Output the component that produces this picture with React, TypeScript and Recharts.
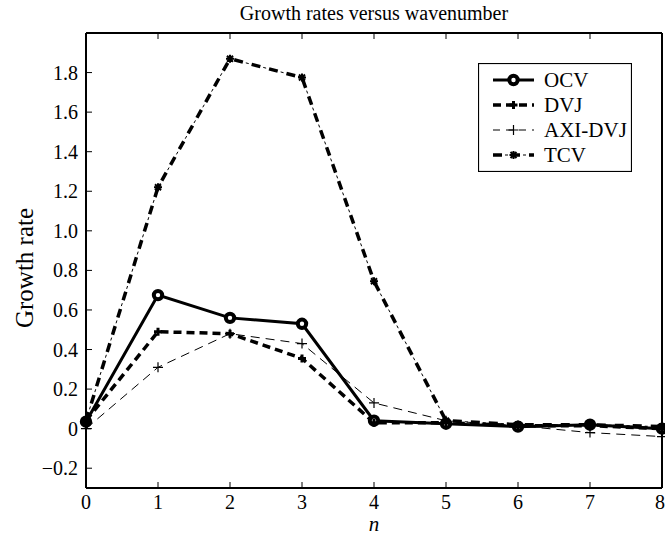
import React from 'react';
import { LineChart, Line, XAxis, YAxis, Legend } from 'recharts';

const wavenumbers = [0, 1, 2, 3, 4, 5, 6, 7, 8];
const ocv = [0.035, 0.675, 0.56, 0.53, 0.04, 0.025, 0.01, 0.02, 0.0];
const dvj = [0.04, 0.49, 0.48, 0.355, 0.03, 0.03, 0.015, 0.015, 0.0];
const axiDvj = [0.0, 0.31, 0.48, 0.43, 0.13, 0.04, 0.015, -0.02, -0.04];
const tcv = [0.04, 1.22, 1.87, 1.775, 0.745, 0.04, 0.02, 0.02, 0.01];

const xTicks = [0, 1, 2, 3, 4, 5, 6, 7, 8];
const yTicks = [-0.2, 0, 0.2, 0.4, 0.6, 0.8, 1.0, 1.2, 1.4, 1.6, 1.8];

const data = wavenumbers.map((n, i) => ({
  n,
  ocv: ocv[i],
  dvj: dvj[i],
  axi: axiDvj[i],
  tcv: tcv[i],
}));

const font = 'Liberation Serif, DejaVu Serif, serif';
const tickStyle = { fontSize: 20, fill: '#000', style: { fontFamily: font } };

const fmtY = (v: number) =>
  v === 0 ? '0' : v < 0 ? '\u2212' + Math.abs(v).toFixed(1) : v.toFixed(1);

type MarkProps = { cx?: number; cy?: number; index?: number };

const Circle = ({ cx, cy }: MarkProps) => (
  <circle cx={cx} cy={cy} r={4.2} fill="#fff" stroke="#000" strokeWidth={4} />
);
const ThickPlus = ({ cx = 0, cy = 0 }: MarkProps) => (
  <path d={`M${cx - 4},${cy}H${cx + 4}M${cx},${cy - 4}V${cy + 4}`} stroke="#000" strokeWidth={3} />
);
const ThinPlus = ({ cx = 0, cy = 0 }: MarkProps) => (
  <path d={`M${cx - 5},${cy}H${cx + 5}M${cx},${cy - 5}V${cy + 5}`} stroke="#000" strokeWidth={1.2} />
);
const Star = ({ cx = 0, cy = 0 }: MarkProps) => (
  <path
    d={`M${cx - 4},${cy}H${cx + 4}M${cx},${cy - 4}V${cy + 4}M${cx - 3},${cy - 3}L${cx + 3},${cy + 3}M${cx - 3},${cy + 3}L${cx + 3},${cy - 3}`}
    stroke="#000"
    strokeWidth={2}
  />
);

const dotOf = (Comp: React.FC<MarkProps>) => (p: MarkProps) =>
  <Comp key={p.index} cx={p.cx} cy={p.cy} />;

const legendRows = [
  { name: 'OCV', width: 3, dash: undefined, Mark: Circle },
  { name: 'DVJ', width: 3.5, dash: '8 5', Mark: ThickPlus },
  { name: 'AXI-DVJ', width: 1, dash: '7 6', Mark: ThinPlus },
  { name: 'TCV', width: 3.5, dash: '9 9', Mark: Star },
];

const LegendBox = () => (
  <svg width={154} height={109} style={{ display: 'block', fontFamily: font }}>
    <rect x={0.5} y={0.5} width={153} height={108} fill="#fff" stroke="#000" strokeWidth={1.2} />
    {legendRows.map((r, i) => {
      const y = 17 + i * 25;
      return (
        <g key={r.name}>
          <line x1={15} x2={56} y1={y} y2={y} stroke="#000" strokeWidth={r.width} strokeDasharray={r.dash} />
          {r.name === 'TCV' && (
            <line x1={15} x2={56} y1={y} y2={y} stroke="#000" strokeWidth={1} strokeDasharray="3 15" strokeDashoffset={-12} />
          )}
          <r.Mark cx={35.5} cy={y} />
          <text x={66} y={y} dominantBaseline="central" fontSize={21} style={{ fontFamily: font }}>
            {r.name}
          </text>
        </g>
      );
    })}
  </svg>
);

export default function App() {
  return (
    <div style={{ position: 'absolute', left: 0, top: 0, background: '#fff', fontFamily: font }}>
      <LineChart width={665} height={539} data={data} margin={{ top: 0, right: 0, bottom: 0, left: 0 }}>
        <XAxis
          xAxisId="bottom"
          dataKey="n"
          type="number"
          domain={[0, 8]}
          ticks={xTicks}
          height={51}
          tickSize={-6}
          tickMargin={13}
          tick={tickStyle}
          axisLine={{ stroke: '#000', strokeWidth: 2 }}
          tickLine={{ stroke: '#000', strokeWidth: 1 }}
          label={{
            content: () => (
              <text x={374} y={524} textAnchor="middle" dominantBaseline="central" fontSize={21} fontStyle="italic" style={{ fontFamily: font }}>
                n
              </text>
            ),
          }}
        />
        <XAxis
          xAxisId="top"
          orientation="top"
          dataKey="n"
          type="number"
          domain={[0, 8]}
          ticks={xTicks}
          height={33}
          tickSize={-6}
          tick={() => null}
          axisLine={{ stroke: '#000', strokeWidth: 2 }}
          tickLine={{ stroke: '#000', strokeWidth: 1 }}
          label={{
            content: () => (
              <text x={374} y={13} textAnchor="middle" dominantBaseline="central" fontSize={20} style={{ fontFamily: font }}>
                Growth rates versus wavenumber
              </text>
            ),
          }}
        />
        <YAxis
          yAxisId="left"
          type="number"
          domain={[-0.3, 2.0]}
          ticks={yTicks}
          width={86}
          tickSize={-6}
          tickMargin={14}
          tick={tickStyle}
          tickFormatter={fmtY}
          axisLine={{ stroke: '#000', strokeWidth: 2 }}
          tickLine={{ stroke: '#000', strokeWidth: 1 }}
          label={{
            content: () => (
              <text x={24} y={268} transform="rotate(-90 24 268)" textAnchor="middle" dominantBaseline="central" fontSize={25} style={{ fontFamily: font }}>
                Growth rate
              </text>
            ),
          }}
        />
        <YAxis
          yAxisId="right"
          orientation="right"
          type="number"
          domain={[-0.3, 2.0]}
          ticks={yTicks}
          width={3}
          tickSize={-6}
          tick={() => null}
          axisLine={{ stroke: '#000', strokeWidth: 2 }}
          tickLine={{ stroke: '#000', strokeWidth: 1 }}
        />
        <Legend
          layout="horizontal"
          verticalAlign="middle"
          align="center"
          content={() => <LegendBox />}
          wrapperStyle={{ position: 'absolute', left: 478, top: 63, width: 154, height: 109 }}
        />
        <Line
          xAxisId="bottom"
          yAxisId="left"
          dataKey="ocv"
          name="OCV"
          stroke="#000"
          strokeWidth={3}
          dot={dotOf(Circle)}
          activeDot={false}
          isAnimationActive={false}
        />
        <Line
          xAxisId="bottom"
          yAxisId="left"
          dataKey="dvj"
          name="DVJ"
          stroke="#000"
          strokeWidth={3.5}
          strokeDasharray="8 5"
          dot={dotOf(ThickPlus)}
          activeDot={false}
          isAnimationActive={false}
        />
        <Line
          xAxisId="bottom"
          yAxisId="left"
          dataKey="axi"
          name="AXI-DVJ"
          stroke="#000"
          strokeWidth={1}
          strokeDasharray="9 6"
          dot={dotOf(ThinPlus)}
          activeDot={false}
          isAnimationActive={false}
        />
        <Line
          xAxisId="bottom"
          yAxisId="left"
          dataKey="tcv"
          name="TCV"
          stroke="#000"
          strokeWidth={3.5}
          strokeDasharray="9 9"
          dot={false}
          activeDot={false}
          isAnimationActive={false}
        />
        <Line
          xAxisId="bottom"
          yAxisId="left"
          dataKey="tcv"
          name="TCV dots"
          legendType="none"
          stroke="#000"
          strokeWidth={1}
          strokeDasharray="3 15"
          strokeDashoffset={-12}
          dot={dotOf(Star)}
          activeDot={false}
          isAnimationActive={false}
        />
      </LineChart>
    </div>
  );
}
